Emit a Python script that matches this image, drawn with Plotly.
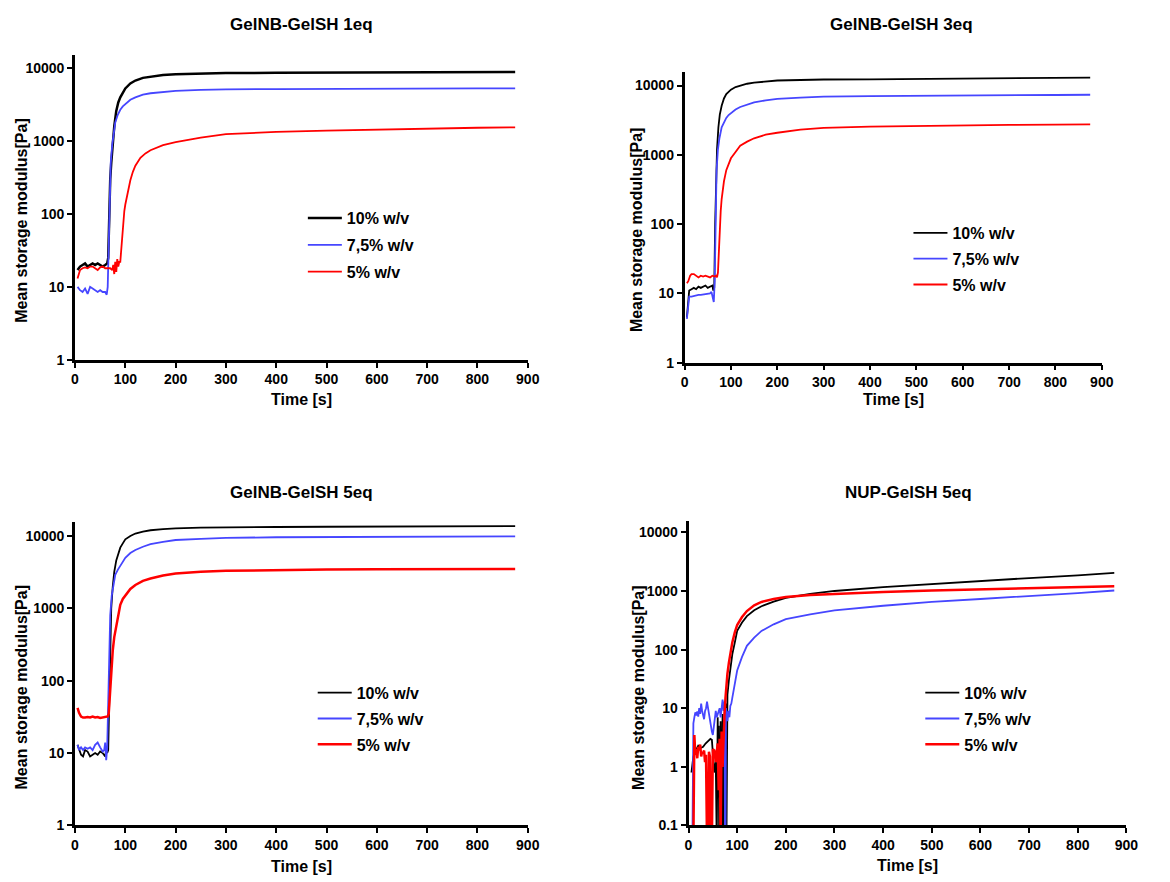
import plotly.graph_objects as go

W, H = 1170, 882
FONT = "Liberation Sans, Arial, sans-serif"
BLACK = "#000000"
BLUE = "#4646ff"
RED = "#ff0000"
SERIES_NAMES = ["10% w/v", "7,5% w/v", "5% w/v"]

# ---------------- GelNB-GelSH 1eq ----------------
t_1eq_10 = [5, 10, 15, 20, 25, 30, 35, 40, 45, 50, 55, 60, 64, 66, 68, 70, 72, 75, 78, 82, 86, 90, 95,
            100, 110, 120, 135, 150, 175, 200, 250, 300, 400, 500, 600, 700, 800, 875]
g_1eq_10 = [17, 19, 20, 21, 19, 20, 21, 20, 21, 20, 19, 20, 21, 25, 150, 300, 500, 900, 1600, 2600, 3400, 4000, 4700,
            5300, 6200, 6800, 7400, 7700, 8100, 8300, 8500, 8600, 8700, 8750, 8800, 8850, 8900, 8900]
t_1eq_75 = [5, 10, 15, 20, 25, 30, 35, 40, 45, 50, 55, 60, 63, 65, 67, 69, 71, 74, 77, 80, 85, 90, 95,
            100, 110, 120, 135, 150, 175, 200, 250, 300, 400, 500, 600, 700, 800, 875]
g_1eq_75 = [10, 9, 8.5, 9.5, 8, 10, 9.5, 9, 8.5, 9, 8.5, 8.5, 7.8, 10, 30, 200, 500, 900, 1400, 1800, 2300, 2700, 3000,
            3250, 3700, 4000, 4350, 4550, 4750, 4900, 5050, 5150, 5200, 5250, 5300, 5300, 5300, 5300]
t_1eq_5 = [5, 10, 15, 20, 25, 30, 35, 40, 45, 50, 55, 60, 65, 70, 74, 76, 78, 80, 82, 84, 86, 88, 90, 92, 94, 96, 98,
           100, 105, 110, 115, 120, 130, 140, 150, 175, 200, 250, 300, 400, 500, 600, 700, 800, 875]
g_1eq_5 = [13, 17, 18, 18.5, 18, 19, 19, 18, 17, 18.5, 19, 18, 18, 18, 17, 20, 15, 22, 16, 24, 19, 22, 22, 35, 60, 85, 110,
           135, 200, 290, 380, 460, 590, 680, 750, 880, 970, 1120, 1250, 1340, 1400, 1450, 1490, 1530, 1550]

# ---------------- GelNB-GelSH 3eq ----------------
t_3eq_10 = [5, 8, 10, 15, 20, 25, 30, 35, 40, 45, 50, 55, 60, 62, 64, 66, 68, 70, 73, 76, 80, 85, 90, 95,
            100, 110, 120, 135, 150, 175, 200, 250, 300, 400, 500, 600, 700, 800, 875]
g_3eq_10 = [4.5, 8, 11, 11.5, 12, 11.5, 12.5, 12, 12.5, 13, 12, 12.5, 13, 11, 12, 100, 400, 1200, 2500, 3800, 5100, 6500, 7500, 8200,
            8700, 9500, 10000, 10600, 11000, 11500, 11800, 12000, 12200, 12300, 12400, 12500, 12600, 12800, 13000]
t_3eq_75 = [5, 8, 10, 15, 20, 25, 30, 35, 40, 45, 50, 55, 58, 61, 63, 65, 67, 69, 72, 75, 80, 85, 90, 95,
            100, 110, 120, 135, 150, 175, 200, 250, 300, 400, 500, 600, 700, 800, 875]
g_3eq_75 = [4.3, 7, 9, 9, 9.2, 9.3, 9.5, 9.5, 9.6, 9.8, 9.7, 10, 10.5, 8, 7.5, 15, 150, 600, 1200, 1700, 2500, 3000, 3400, 3750,
            4000, 4500, 4900, 5300, 5700, 6100, 6400, 6700, 6900, 7050, 7150, 7200, 7250, 7300, 7350]
t_3eq_5 = [5, 8, 12, 15, 20, 25, 30, 35, 40, 45, 50, 55, 60, 65, 68, 70, 72, 74, 76, 78, 80, 85, 90, 95,
           100, 110, 120, 135, 150, 175, 200, 250, 300, 400, 500, 600, 700, 800, 875]
g_3eq_5 = [14, 15, 18, 19, 19, 18, 17, 18, 17.5, 18, 17.5, 17, 18, 17.5, 18, 17, 20, 50, 100, 155, 230, 415, 600, 750,
           890, 1100, 1350, 1550, 1730, 1950, 2080, 2300, 2450, 2550, 2620, 2660, 2700, 2730, 2750]

# ---------------- GelNB-GelSH 5eq ----------------
t_5eq_10 = [5, 8, 12, 16, 20, 25, 30, 35, 40, 45, 50, 55, 60, 62, 64, 66, 68, 70, 72, 75, 78, 82, 86, 90, 95,
            100, 110, 120, 135, 150, 175, 200, 250, 300, 400, 500, 600, 700, 800, 875]
g_5eq_10 = [13, 11, 9.5, 9, 11, 10.5, 9, 9.5, 10, 9.5, 10.5, 10, 9, 11, 10, 11, 60, 480, 1000, 2000, 3200, 4600, 5800, 6900, 7900,
            9000, 10000, 10800, 11500, 12000, 12400, 12700, 13000, 13200, 13300, 13400, 13500, 13600, 13650, 13700]
t_5eq_75 = [5, 8, 12, 16, 20, 25, 30, 35, 40, 45, 50, 55, 58, 60, 62, 64, 66, 68, 70, 73, 76, 80, 85, 90, 95,
            100, 110, 120, 135, 150, 175, 200, 250, 300, 400, 500, 600, 700, 800, 875]
g_5eq_75 = [13, 11, 12, 11, 12, 11.5, 12, 11, 13, 14, 12, 10.5, 11, 14, 8, 12, 50, 300, 800, 1500, 2100, 2900, 3400, 3900, 4500,
            5000, 5800, 6400, 7100, 7700, 8300, 8800, 9100, 9400, 9600, 9700, 9800, 9850, 9900, 9900]
t_5eq_5 = [5, 8, 12, 16, 20, 25, 30, 35, 40, 45, 50, 55, 60, 65, 67, 69, 71, 73, 75, 78, 80, 85, 90, 95,
           100, 110, 120, 135, 150, 175, 200, 250, 300, 400, 500, 600, 700, 800, 875]
g_5eq_5 = [42, 36, 32, 31, 31, 31.5, 31, 32, 31, 31.5, 30.5, 31, 31, 32, 35, 60, 100, 150, 260, 400, 480, 780, 1120, 1350,
           1520, 1850, 2100, 2400, 2580, 2850, 3020, 3200, 3300, 3400, 3450, 3470, 3480, 3490, 3500]

# ---------------- NUP-GelSH 5eq ----------------
t_nup_10 = [6, 10, 15, 20, 25, 30, 35, 40, 45, 48, 50, 53, 56, 58, 60, 61, 62, 63, 64, 65, 66, 67, 68, 69, 70, 71, 72,
            73, 74, 75, 76, 77, 78, 80, 83, 86, 90, 95, 100, 110, 120, 135, 150, 175, 200, 250, 300, 400, 500, 600,
            700, 800, 875]
g_nup_10 = [0.8, 1.5, 1.9, 2.3, 2.1, 2.2, 2.5, 2.8, 3.0, 2.9, 1.5, 0.8, 1.2, 0.05, 7, 0.3, 5, 0.05, 3, 0.2, 6, 0.05,
            4, 0.5, 8, 0.05, 2, 5, 0.05, 9, 0.4, 12, 0.05, 17, 30, 50, 83, 130, 209, 290, 373, 470, 550, 660, 760, 890,
            1000, 1160, 1320, 1480, 1660, 1850, 2030]
t_nup_75 = [8, 10, 12, 14, 16, 18, 20, 22, 24, 26, 28, 30, 32, 34, 36, 38, 40, 42, 44, 46, 48, 50, 52, 54, 56, 58, 60,
            62, 64, 66, 68, 70, 72, 74, 75, 76, 77, 78, 80, 82, 84, 86, 88, 90, 95, 100, 110, 120, 135, 150, 175, 200,
            250, 300, 400, 500, 600, 700, 800, 875]
g_nup_75 = [0.05, 5.5, 7, 8.5, 7.5, 8.8, 7.2, 10, 8, 12, 9, 7, 6.5, 9, 10, 13, 10, 8, 6, 5, 4, 3.5, 4.5, 6, 9, 7, 8,
            9, 10, 7, 12, 14, 9, 13, 0.05, 0.05, 10, 8, 6, 9, 7, 11, 12, 15, 25, 44, 75, 116, 160, 208, 270, 330, 400,
            465, 560, 650, 730, 815, 920, 1020]
t_nup_5 = [10, 12, 14, 16, 18, 20, 22, 24, 26, 28, 30, 32, 34, 36, 38, 40, 42, 44, 46, 48, 50, 53, 56, 60, 62, 64,
           66, 68, 70, 72, 74, 76, 78, 80, 83, 86, 90, 95, 100, 110, 120, 135, 150, 175, 200, 250, 300, 400, 500,
           600, 700, 800, 875]
g_nup_5 = [0.05, 3.5, 1.6, 2.0, 1.4, 2.2, 1.9, 2.4, 1.5, 1.8, 1.7, 1.9, 1.2, 1.6, 0.05, 0.05, 1.8, 1.5, 0.05, 0.05,
           2.0, 1.9, 1.2, 2.5, 0.4, 3, 0.05, 4, 1, 5, 8, 15, 25, 39, 60, 90, 132, 195, 263, 360, 455, 570, 650, 730,
           790, 850, 890, 960, 1020, 1070, 1120, 1170, 1200]

# Tick labels
x_ticks = [0, 100, 200, 300, 400, 500, 600, 700, 800, 900]
y_ticks = [1, 10, 100, 1000, 10000]
y_ticks_nup = [0.1, 1, 10, 100, 1000, 10000]


def fx(px):
    return px / W


def fy(py):
    return 1 - py / H


# Each panel: title, series, plot box in pixels (left, right, top, bottom), legend placement
panels = [
    dict(title="GelNB-GelSH 1eq",
         series=[(t_1eq_10, g_1eq_10), (t_1eq_75, g_1eq_75), (t_1eq_5, g_1eq_5)],
         widths=[2.5, 1.8, 1.8], box=(72, 531, 55, 363), yticks=y_ticks, ymin=0,
         title_xy=(302, 25), xt_xy=(302, 403), yt_xy=(18, 223), leg_xy=(303, 203)),
    dict(title="GelNB-GelSH 3eq",
         series=[(t_3eq_10, g_3eq_10), (t_3eq_75, g_3eq_75), (t_3eq_5, g_3eq_5)],
         widths=[1.8, 1.8, 1.8], box=(690, 1113, 73, 366), yticks=y_ticks, ymin=0,
         title_xy=(910, 25), xt_xy=(902, 403), yt_xy=(642, 232), leg_xy=(917, 218)),
    dict(title="GelNB-GelSH 5eq",
         series=[(t_5eq_10, g_5eq_10), (t_5eq_75, g_5eq_75), (t_5eq_5, g_5eq_5)],
         widths=[1.8, 1.8, 2.5], box=(72, 531, 527, 833), yticks=y_ticks, ymin=0,
         title_xy=(302, 497), xt_xy=(302, 874), yt_xy=(18, 694), leg_xy=(313, 682)),
    dict(title="NUP-GelSH 5eq",
         series=[(t_nup_10, g_nup_10), (t_nup_75, g_nup_75), (t_nup_5, g_nup_5)],
         widths=[1.8, 1.8, 2.5], box=(694, 1138, 526, 833), yticks=y_ticks_nup, ymin=-1,
         title_xy=(917, 497), xt_xy=(916, 873), yt_xy=(643, 694), leg_xy=(929, 682)),
]

colors = [BLACK, BLUE, RED]
fig = go.Figure()
layout = dict(
    width=W, height=H, margin=dict(l=0, r=0, t=0, b=0),
    paper_bgcolor="white", plot_bgcolor="white",
    font=dict(family=FONT, color="black"),
    showlegend=True, annotations=[],
)

for i, p in enumerate(panels):
    n = i + 1
    xa = "x" if n == 1 else f"x{n}"
    ya = "y" if n == 1 else f"y{n}"
    leg = "legend" if n == 1 else f"legend{n}"
    for k, (t, g) in enumerate(p["series"]):
        fig.add_trace(go.Scatter(
            x=t, y=g, mode="lines", name=SERIES_NAMES[k],
            line=dict(color=colors[k], width=p["widths"][k]),
            xaxis=xa, yaxis=ya, legend=leg, legendgroup=f"{n}-{k}",
        ))
    left, right, top, bottom = p["box"]
    axis_common = dict(
        showline=True, linecolor="black", linewidth=2.6, showgrid=False, zeroline=False,
        ticks="outside", ticklen=5, tickwidth=2, tickcolor="black",
        tickfont=dict(family=FONT, size=14, color="black", weight="bold"),
    )
    layout["xaxis" if n == 1 else f"xaxis{n}"] = dict(
        axis_common, domain=[fx(left), fx(right)], anchor=ya, range=[0, 900],
        tickvals=x_ticks, ticktext=[str(v) for v in x_ticks],
    )
    layout["yaxis" if n == 1 else f"yaxis{n}"] = dict(
        axis_common, domain=[fy(bottom), fy(top)], anchor=xa, type="log",
        range=[p["ymin"], 4.19], tickvals=p["yticks"],
        ticktext=[("%g" % v) for v in p["yticks"]],
    )
    lx, ly = p["leg_xy"]
    layout[leg] = dict(
        x=fx(lx), y=fy(ly), xanchor="left", yanchor="top", xref="paper", yref="paper",
        bgcolor="rgba(0,0,0,0)", borderwidth=0, tracegroupgap=3 if n == 1 else 2, itemwidth=34,
        font=dict(family=FONT, size=16, color="black", weight="bold"),
    )
    tx, ty = p["title_xy"]
    layout["annotations"].append(dict(
        text=p["title"], x=fx(tx), y=fy(ty), xref="paper", yref="paper",
        xanchor="center", yanchor="middle", showarrow=False,
        font=dict(family=FONT, size=17, color="black", weight="bold"),
    ))
    xx, xy = p["xt_xy"]
    layout["annotations"].append(dict(
        text="Time [s]", x=fx(xx), y=fy(xy), xref="paper", yref="paper",
        xanchor="center", yanchor="middle", showarrow=False,
        font=dict(family=FONT, size=16, color="black", weight="bold"),
    ))
    yx, yy = p["yt_xy"]
    layout["annotations"].append(dict(
        text="Mean storage modulus[Pa]", x=fx(yx), y=fy(yy), xref="paper", yref="paper",
        xanchor="center", yanchor="middle", showarrow=False, textangle=-90,
        font=dict(family=FONT, size=16, color="black", weight="bold"),
    ))

fig.update_layout(**layout)
fig.write_html("out.html")
